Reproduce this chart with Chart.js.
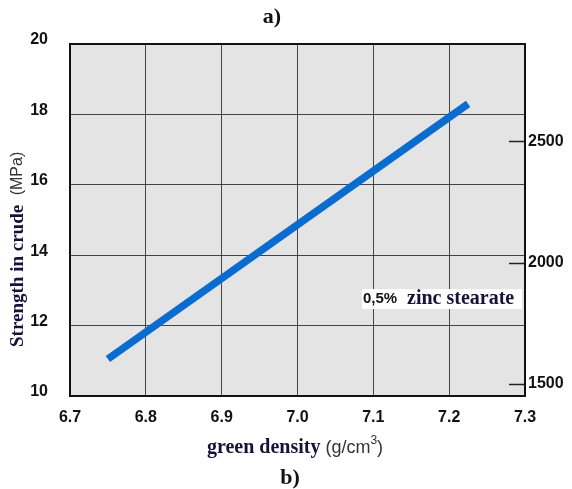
<!DOCTYPE html>
<html>
<head>
<meta charset="utf-8">
<script src="https://cdn.jsdelivr.net/npm/chart.js@4.4.1/dist/chart.umd.min.js"></script>
<style>
  body { margin: 0; background: #fff; }
  canvas { display: block; }
</style>
</head>
<body>
<canvas id="grafico" width="572" height="489"></canvas>
<script>
// dados
const densidade = [6.75, 7.225];
const resistencia = [11.05, 18.3];
const ticksDensidade = [6.7, 6.8, 6.9, 7.0, 7.1, 7.2, 7.3];
const ticksMPa = [10, 12, 14, 16, 18, 20];
const ticksPsi = [1500, 2000, 2500];

const MPA_PSI = 145.038;
const fonteTicks = { family: '"Liberation Sans", Arial, sans-serif', size: 16, weight: 'bold' };
const serif = '"Liberation Serif", "DejaVu Serif", serif';
const sans = '"Liberation Sans", Arial, sans-serif';

// fundo cinza, moldura, ticks internos do eixo da direita e textos
const extras = {
    id: 'extras',
    beforeDraw(chart) {
        const { ctx, chartArea: a } = chart;
        ctx.save();
        ctx.fillStyle = '#e4e4e4';
        ctx.fillRect(a.left, a.top, a.right - a.left, a.bottom - a.top);
        ctx.restore();
    },
    afterDraw(chart) {
        const { ctx, chartArea: a } = chart;
        const y2 = chart.scales.y2;
        ctx.save();
        // ticks para dentro no eixo psi
        ctx.strokeStyle = '#222';
        ctx.lineWidth = 1.5;
        ticksPsi.forEach(v => {
            const py = Math.round(y2.getPixelForValue(v)) + 0.5;
            ctx.beginPath();
            ctx.moveTo(a.right - 16, py);
            ctx.lineTo(a.right, py);
            ctx.stroke();
        });
        // moldura
        ctx.strokeStyle = '#111';
        ctx.lineWidth = 2;
        ctx.strokeRect(a.left, a.top, a.right - a.left, a.bottom - a.top);

        // caixa da legenda
        ctx.fillStyle = '#fff';
        ctx.fillRect(362, 289, 160, 20);
        ctx.textBaseline = 'middle';
        ctx.textAlign = 'left';
        ctx.fillStyle = '#111';
        ctx.font = 'bold 15px ' + sans;
        ctx.fillText('0,5%', 363, 299);
        ctx.fillStyle = '#14143a';
        ctx.font = 'bold 20px ' + serif;
        ctx.fillText('zinc stearate', 407, 299);

        // a) e b)
        ctx.fillStyle = '#111';
        ctx.textAlign = 'center';
        ctx.font = 'bold 22px ' + serif;
        ctx.fillText('a)', 272, 17);
        ctx.fillText('b)', 290, 478);

        // título do eixo x
        ctx.textAlign = 'left';
        const t1 = 'green density ';
        const t2 = '(g/cm';
        ctx.font = 'bold 20px ' + serif;
        const w1 = ctx.measureText(t1).width;
        ctx.font = '18px ' + sans;
        const w2 = ctx.measureText(t2).width;
        ctx.font = '12px ' + sans;
        const w3 = ctx.measureText('3').width;
        ctx.font = '18px ' + sans;
        const w4 = ctx.measureText(')').width;
        let x0 = 295 - (w1 + w2 + w3 + w4) / 2;
        const yT = 448;
        ctx.fillStyle = '#14143a';
        ctx.font = 'bold 20px ' + serif;
        ctx.fillText(t1, x0, yT);
        ctx.fillStyle = '#333';
        ctx.font = '18px ' + sans;
        ctx.fillText(t2, x0 + w1, yT);
        ctx.font = '12px ' + sans;
        ctx.fillText('3', x0 + w1 + w2, yT - 7);
        ctx.font = '18px ' + sans;
        ctx.fillText(')', x0 + w1 + w2 + w3, yT);

        // título do eixo y (vertical)
        ctx.translate(18, 347);
        ctx.rotate(-Math.PI / 2);
        const s1 = 'Strength in crude  ';
        const s2 = '(MPa)';
        ctx.font = 'bold 19px ' + serif;
        const ws1 = ctx.measureText(s1).width;
        ctx.fillStyle = '#14143a';
        ctx.fillText(s1, 0, 0);
        ctx.fillStyle = '#333';
        ctx.font = '16px ' + sans;
        ctx.fillText(s2, ws1, 0);
        ctx.restore();
    }
};

new Chart(document.getElementById('grafico'), {
    type: 'line',
    data: {
        datasets: [{
            data: densidade.map((d, i) => ({ x: d, y: resistencia[i] })),
            borderColor: '#0a6ccf',
            borderWidth: 7.5,
            pointRadius: 0,
            borderCapStyle: 'butt',
            fill: false
        }]
    },
    options: {
        responsive: false,
        animation: false,
        layout: { padding: { top: 44, left: 0, right: 0, bottom: 0 } },
        plugins: {
            legend: { display: false },
            tooltip: { enabled: false }
        },
        scales: {
            x: {
                type: 'linear',
                min: 6.7,
                max: 7.3,
                afterBuildTicks: s => { s.ticks = ticksDensidade.map(v => ({ value: v })); },
                afterFit: s => { s.height = 93; },
                grid: { color: '#444', lineWidth: 1, drawTicks: false },
                border: { display: false },
                ticks: {
                    color: '#111',
                    font: fonteTicks,
                    padding: 12,
                    maxRotation: 0,
                    callback: v => v.toFixed(1)
                }
            },
            y: {
                min: 10,
                max: 20,
                afterBuildTicks: s => { s.ticks = ticksMPa.map(v => ({ value: v })); },
                afterFit: s => { s.width = 70; },
                grid: { color: '#444', lineWidth: 1, drawTicks: false },
                border: { display: false },
                ticks: {
                    color: '#111',
                    font: fonteTicks,
                    padding: 22,
                    labelOffset: -4
                }
            },
            y2: {
                position: 'right',
                min: 10 * MPA_PSI,
                max: 20 * MPA_PSI,
                afterBuildTicks: s => { s.ticks = ticksPsi.map(v => ({ value: v })); },
                afterFit: s => { s.width = 47; },
                grid: { drawOnChartArea: false, drawTicks: false },
                border: { display: false },
                ticks: {
                    color: '#111',
                    font: fonteTicks,
                    padding: 3,
                    callback: v => String(v)
                }
            }
        }
    },
    plugins: [extras]
});
</script>
</body>
</html>
